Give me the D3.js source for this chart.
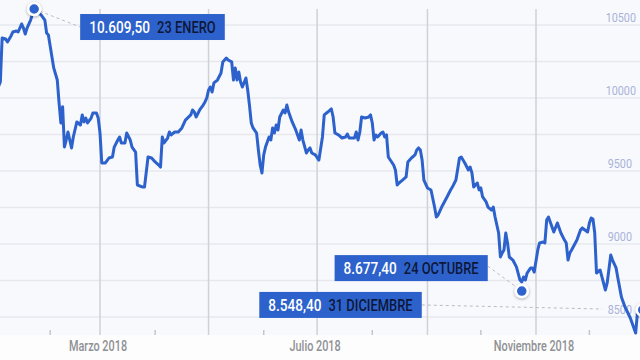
<!DOCTYPE html>
<html>
<head>
<meta charset="utf-8">
<script src="https://cdn.jsdelivr.net/npm/d3@7"></script>
<style>
  html, body { margin: 0; padding: 0; background: #fdfdfe; }
  #chart { width: 640px; height: 360px; }
  text { font-family: Roboto, "Noto Sans", sans-serif; }
</style>
</head>
<body>
<div id="chart"></div>
<script>
// IBEX 35 closing level during 2018.
// dayOfYear = days after 1 January 2018
const dayOfYear = [
  1, 2, 3, 4, 6, 7, 9, 10, 12, 13, 15, 16, 17, 18, 20, 22, 26, 28, 29, 30,
  32, 33, 35, 36, 37, 38, 39, 40, 41, 42, 43, 44, 46, 48, 49, 50, 51, 52, 54, 55,
  57, 58, 59, 60, 62, 64, 66, 67, 69, 70, 71, 73, 74, 76, 77, 79, 80, 83, 84, 86,
  88, 90, 92, 93, 94, 95, 97, 98, 99, 101, 103, 105, 107, 110, 111, 112, 113, 115, 117, 118,
  119, 120, 121, 122, 123, 125, 127, 128, 130, 131, 133, 134, 135, 136, 137, 138, 139, 141, 142, 143,
  144, 145, 147, 148, 149, 150, 151, 152, 154, 155, 156, 157, 158, 159, 160, 162, 163, 164, 165, 167,
  169, 170, 171, 172, 173, 175, 176, 177, 178, 180, 182, 184, 185, 187, 189, 190, 191, 193, 195, 197,
  198, 199, 201, 202, 203, 204, 205, 206, 208, 210, 211, 212, 213, 214, 215, 217, 218, 219, 220, 221,
  224, 225, 226, 227, 229, 231, 232, 234, 236, 237, 238, 239, 240, 241, 243, 245, 247, 248, 249, 251,
  254, 256, 257, 259, 261, 262, 264, 266, 267, 268, 269, 271, 272, 273, 274, 276, 277, 279, 280, 281,
  283, 284, 285, 286, 287, 288, 289, 291, 293, 295, 296, 297, 298, 299, 301, 302, 303, 305, 306, 308,
  309, 310, 311, 313, 314, 316, 318, 320, 321, 322, 323, 324, 327, 329, 330, 333, 334, 335, 336, 337,
  338, 340, 343, 344, 346, 347, 349, 350, 352, 354, 357, 360, 361, 364
];
const closeValues = [
  10050, 10080, 10110, 10411, 10404, 10384, 10425, 10452, 10459, 10452, 10507, 10479, 10438, 10479, 10534, 10609.5, 10568, 10534, 10445, 10432,
  10281, 10206, 10123, 9966, 9829, 9940, 9664, 9712, 9767, 9712, 9658, 9733, 9836, 9815, 9884, 9836, 9863, 9829, 9863, 9897,
  9897, 9863, 9760, 9555, 9555, 9589, 9596, 9664, 9712, 9733, 9692, 9692, 9760, 9712, 9664, 9630, 9404, 9390, 9390, 9596,
  9589, 9562, 9541, 9527, 9733, 9692, 9726, 9767, 9747, 9767, 9767, 9795, 9849, 9884, 9918, 9904, 9870, 9918, 9952, 9973,
  10000, 10055, 10075, 10041, 10103, 10123, 10171, 10247, 10274, 10260, 10247, 10123, 10206, 10123, 10178, 10110, 10075, 10137, 10055, 9950,
  9829, 9795, 9760, 9644, 9541, 9486, 9610, 9664, 9733, 9712, 9795, 9760, 9815, 9781, 9870, 9918, 9897, 9952, 9904, 9836,
  9781, 9747, 9712, 9781, 9712, 9623, 9644, 9658, 9623, 9610, 9575, 9733, 9884, 9904, 9925, 9870, 9760, 9747, 9726, 9733,
  9753, 9726, 9726, 9726, 9767, 9712, 9767, 9870, 9863, 9870, 9884, 9829, 9712, 9747, 9733, 9760, 9767, 9733, 9747, 9596,
  9541, 9507, 9404, 9418, 9438, 9459, 9562, 9589, 9610, 9644, 9658, 9644, 9575, 9438, 9384, 9370, 9253, 9185, 9199, 9253,
  9322, 9370, 9390, 9438, 9589, 9596, 9555, 9507, 9527, 9486, 9390, 9418, 9370, 9384, 9322, 9288, 9253, 9233, 9253, 9185,
  9075, 8911, 8938, 8959, 9075, 9007, 8911, 8890, 8843, 8753, 8740, 8774, 8753, 8801, 8836, 8836, 8808, 8959, 9007, 9014,
  9007, 9164, 9185, 9116, 9082, 9144, 9075, 9027, 9007, 8890, 8938, 8959, 9027, 9096, 9110, 9082, 9144, 9178, 9171, 9075,
  8801, 8822, 8685, 8733, 8925, 8890, 8836, 8767, 8637, 8569, 8493, 8390, 8530, 8548.4
];

const gridValues  = [8500, 8750, 9000, 9250, 9500, 9750, 10000, 10250, 10500];
const yTickLabels = [8500, 9000, 9500, 10000, 10500];
const monthNames  = ["Enero","Febrero","Marzo","Abril","Mayo","Junio","Julio",
                     "Agosto","Septiembre","Octubre","Noviembre","Diciembre"];
const labelMonths = [2, 6, 10];          // Marzo, Julio, Noviembre
const gridMonths  = [2, 4, 6, 8, 10];
const minorMonths = [1, 3, 5, 7, 9, 11];

const annoDays   = [22, 296, 364];
const annoValues = [10609.5, 8677.4, 8548.4];
const annoText   = ["23 ENERO", "24 OCTUBRE", "31 DICIEMBRE"];

const W = 640, H = 360;
const PLOT_BOTTOM = 335, GRID_TOP = 9;
const BLUE = "#2d62cc", NAVY = "#0d1838";
const START = Date.UTC(2018, 0, 1);
const dayDate = d => new Date(START + d * 864e5);
const monthDate = m => new Date(Date.UTC(2018, m, 1));

const esES = d3.formatLocale({ decimal: ",", thousands: ".", grouping: [3], currency: ["", " €"] });
const fmtVal = esES.format(",.2f");

const svg = d3.select("#chart").append("svg")
  .attr("width", W).attr("height", H).attr("viewBox", `0 0 ${W} ${H}`);

const x = d3.scaleUtc().domain([monthDate(2), monthDate(10)]).range([100, 536]);
const y = d3.scaleLinear().domain([8500, 10500]).range([317, 25]);

// condensed look: text drawn at (px,py) and squeezed horizontally by k
function squeezed(parent, px, py, k, str) {
  return parent.append("text")
    .attr("transform", `translate(${px},${py}) scale(${k},1)`)
    .text(str);
}

const defs = svg.append("defs");
const f = defs.append("filter").attr("id", "shadow")
  .attr("x", "-60%").attr("y", "-60%").attr("width", "220%").attr("height", "220%");
f.append("feDropShadow").attr("dx", 0).attr("dy", 1).attr("stdDeviation", 1.6)
  .attr("flood-color", "#000").attr("flood-opacity", 0.35);

// plot background
svg.append("rect").attr("width", W).attr("height", PLOT_BOTTOM).attr("fill", "#f8f9fc");

// Horizontal grid
svg.append("g").selectAll("line").data(gridValues).join("line")
  .attr("x1", 0).attr("x2", W)
  .attr("y1", d => y(d)).attr("y2", d => y(d))
  .attr("stroke", "#e6e8ee").attr("stroke-width", 1.5);

// Vertical grid every two months
svg.append("g").selectAll("line").data(gridMonths).join("line")
  .attr("x1", m => x(monthDate(m))).attr("x2", m => x(monthDate(m)))
  .attr("y1", GRID_TOP).attr("y2", PLOT_BOTTOM)
  .attr("stroke", "#d0d1d6").attr("stroke-width", 1.5);

// Minor month ticks
svg.append("g").selectAll("line").data(minorMonths).join("line")
  .attr("x1", m => x(monthDate(m))).attr("x2", m => x(monthDate(m)))
  .attr("y1", PLOT_BOTTOM - 5).attr("y2", PLOT_BOTTOM)
  .attr("stroke", "#c4c5ca").attr("stroke-width", 1.5);

// Month labels
const xLab = svg.append("g")
  .attr("font-size", 14.5).attr("font-weight", 500).attr("fill", "#8f9093")
  .attr("text-anchor", "middle");
labelMonths.forEach(m => {
  squeezed(xLab, x(monthDate(m)) - 2, PLOT_BOTTOM + 16, 0.75, `${monthNames[m]} 2018`);
});

// Y labels (right side, above their grid line)
const yLab = svg.append("g").attr("font-size", 13.5).attr("fill", "#a9b3da")
  .attr("text-anchor", "end");
yTickLabels.forEach(v => squeezed(yLab, v >= 10000 ? 636 : 632, y(v) - 3, 0.8, v));

// Line
const series = dayOfYear.map((d, i) => ({ date: dayDate(d), value: closeValues[i] }));
svg.append("path").datum(series)
  .attr("fill", "none").attr("stroke", BLUE).attr("stroke-width", 3)
  .attr("stroke-linejoin", "round")
  .attr("d", d3.line().x(d => x(d.date)).y(d => y(d.value)));

// Annotations
const annos = annoDays.map((d, i) => ({
  cx: x(dayDate(d)), cy: y(annoValues[i]),
  value: fmtVal(annoValues[i]), label: annoText[i]
}));

const K1 = 0.8, K2 = 0.76, PAD = 9, GAP = 7;
function textWidth(str, k) {
  const t = svg.append("text").attr("font-size", 17).attr("font-weight", 500).text(str);
  const w = t.node().getComputedTextLength() * k;
  t.remove();
  return w;
}
function boxWidth(a) {
  return PAD + textWidth(a.value, K1) + GAP + textWidth(a.label, K2) + PAD;
}
function drawBox(a, left, top) {
  const g = svg.append("g").attr("font-size", 17).attr("font-weight", 500);
  g.append("rect").attr("x", left).attr("y", top)
    .attr("width", boxWidth(a)).attr("height", 26).attr("fill", BLUE);
  squeezed(g, left + PAD, top + 19, K1, a.value).attr("fill", "#fff");
  squeezed(g, left + PAD + textWidth(a.value, K1) + GAP, top + 19, K2, a.label).attr("fill", NAVY);
}

const conn = svg.append("g").attr("stroke", "#b9bcc4").attr("stroke-width", 1)
  .attr("stroke-dasharray", "3,3").attr("fill", "none");

// 23 enero: box to the right of the peak
{
  const a = annos[0];
  const left = a.cx + 46, top = a.cy + 5;
  conn.append("line").attr("x1", a.cx).attr("y1", a.cy).attr("x2", left).attr("y2", top + 13);
  drawBox(a, left, top);
}
// 24 octubre: box up-left of the dot
{
  const a = annos[1];
  const right = a.cx - 34, top = a.cy - 36;
  conn.append("line").attr("x1", right).attr("y1", top + 11).attr("x2", a.cx).attr("y2", a.cy);
  drawBox(a, right - boxWidth(a), top);
}
// 31 diciembre: box to the left, dashed guide toward the last close
{
  const a = annos[2];
  const right = a.cx - 221, top = a.cy - 18;
  const stopX = 602;
  const t = (stopX - right) / (a.cx - right);
  conn.append("line").attr("x1", right).attr("y1", top + 13)
    .attr("x2", stopX).attr("y2", top + 13 + t * (a.cy - top - 13));
  drawBox(a, right - boxWidth(a), top);
}

// Dots
svg.append("g").selectAll("circle").data(annos).join("circle")
  .attr("cx", d => d.cx).attr("cy", d => d.cy).attr("r", 6)
  .attr("fill", BLUE).attr("stroke", "#fff").attr("stroke-width", 2.5)
  .attr("filter", "url(#shadow)");
</script>
</body>
</html>
